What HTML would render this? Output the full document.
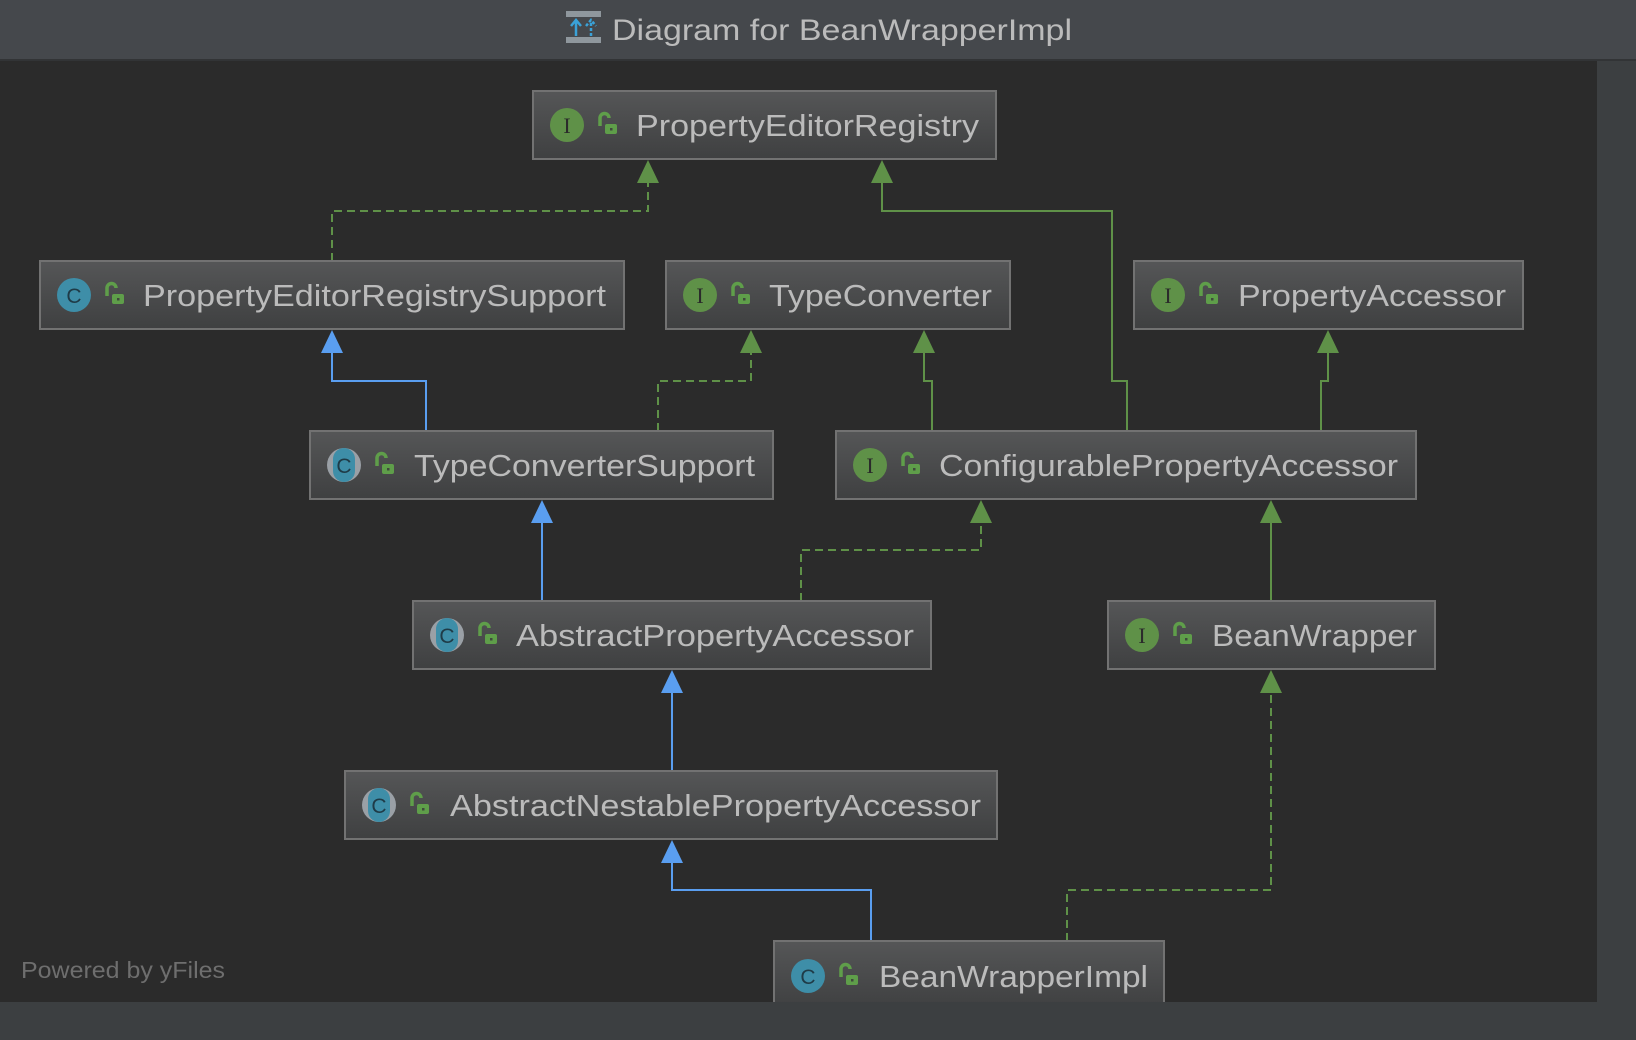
<!DOCTYPE html>
<html><head><meta charset="utf-8"><style>
html,body{margin:0;padding:0;background:#3c3f41;}
svg{display:block;}
text{font-family:"Liberation Sans",sans-serif;}
text.serif{font-family:"Liberation Serif",serif;}
</style></head><body>
<svg width="1636" height="1040" viewBox="0 0 1636 1040" xmlns="http://www.w3.org/2000/svg">
<defs>
<linearGradient id="ng" x1="0" y1="0" x2="0" y2="1">
<stop offset="0" stop-color="#555657"/><stop offset="1" stop-color="#3f4041"/>
</linearGradient>
<g id="lock"><path d="M-6,1 v-8 a4.5,4.5 0 0 1 9,0" fill="none" stroke="#5f9e4a" stroke-width="3.5"/><rect x="-1" y="-1" width="12" height="10" rx="2" fill="#5f9e4a"/><rect x="4" y="3" width="2.5" height="2.5" fill="#3f4a3c"/></g>
<g id="ii"><circle r="17" fill="#5f9148"/><text class="serif" y="8" text-anchor="middle" font-size="22" fill="#2b2b2b">I</text></g>
<g id="cc"><circle r="17" fill="#3e8ea8"/><text y="8" text-anchor="middle" font-size="21" fill="#1f3b47">C</text></g>
<g id="ac"><circle r="17" fill="#9aa0a6"/><rect x="-11" y="-17" width="22" height="34" rx="11" fill="#3e8ea8"/><text y="8" text-anchor="middle" font-size="21" fill="#1f3b47">C</text></g>
</defs>
<rect x="0" y="0" width="1636" height="1040" fill="#3c3f41"/>
<rect x="0" y="0" width="1636" height="59" fill="#45484c"/>
<rect x="0" y="59" width="1636" height="2" fill="#323436"/>
<rect x="0" y="61" width="1597" height="941" fill="#2b2b2b"/>
<rect x="566" y="11" width="35" height="6" fill="#8f979d"/>
<rect x="566" y="37" width="35" height="6" fill="#8f979d"/>
<path d="M576,36 v-14 M571,26 l5,-6 l5,6" stroke="#3aa2d8" stroke-width="2.5" fill="none"/>
<path d="M591,36 v-14 M586,26 l5,-6 l5,6" stroke="#3aa2d8" stroke-width="2.5" fill="none" stroke-dasharray="3,2"/>
<text x="612" y="40" font-size="30" fill="#bbbbbb" textLength="460" lengthAdjust="spacingAndGlyphs">Diagram for BeanWrapperImpl</text>

<g fill="none" stroke-width="2">
<path d="M332,261 V211 H648 V175" stroke="#5f9148" stroke-dasharray="8,5"/>
<path d="M1127,431 V381 H1112 V211 H882 V175" stroke="#5f9148"/>
<path d="M426,431 V381 H332 V345" stroke="#5a9ef0"/>
<path d="M658,431 V381 H751 V345" stroke="#5f9148" stroke-dasharray="8,5"/>
<path d="M932,431 V381 H924 V345" stroke="#5f9148"/>
<path d="M1321,431 V381 H1328 V345" stroke="#5f9148"/>
<path d="M542,601 V515" stroke="#5a9ef0"/>
<path d="M801,601 V550 H981 V515" stroke="#5f9148" stroke-dasharray="8,5"/>
<path d="M1271,601 V515" stroke="#5f9148"/>
<path d="M672,771 V685" stroke="#5a9ef0"/>
<path d="M871,941 V890 H672 V855" stroke="#5a9ef0"/>
<path d="M1067,941 V890 H1271 V685" stroke="#5f9148" stroke-dasharray="8,5"/>
</g>
<g>
<path d="M648,160 l-11,23 h22z" fill="#5f9148"/>
<path d="M882,160 l-11,23 h22z" fill="#5f9148"/>
<path d="M332,330 l-11,23 h22z" fill="#5a9ef0"/>
<path d="M751,330 l-11,23 h22z" fill="#5f9148"/>
<path d="M924,330 l-11,23 h22z" fill="#5f9148"/>
<path d="M1328,330 l-11,23 h22z" fill="#5f9148"/>
<path d="M542,500 l-11,23 h22z" fill="#5a9ef0"/>
<path d="M981,500 l-11,23 h22z" fill="#5f9148"/>
<path d="M1271,500 l-11,23 h22z" fill="#5f9148"/>
<path d="M672,670 l-11,23 h22z" fill="#5a9ef0"/>
<path d="M672,840 l-11,23 h22z" fill="#5a9ef0"/>
<path d="M1271,670 l-11,23 h22z" fill="#5f9148"/>
</g>

<g stroke="#727272" stroke-width="2" fill="url(#ng)">
<rect x="533" y="91" width="463" height="68"/>
<rect x="40" y="261" width="584" height="68"/>
<rect x="666" y="261" width="344" height="68"/>
<rect x="1134" y="261" width="389" height="68"/>
<rect x="310" y="431" width="463" height="68"/>
<rect x="836" y="431" width="580" height="68"/>
<rect x="413" y="601" width="518" height="68"/>
<rect x="1108" y="601" width="327" height="68"/>
<rect x="345" y="771" width="652" height="68"/>
<rect x="774" y="941" width="390" height="68"/>
</g>
<rect x="0" y="1002" width="1636" height="38" fill="#3c3f41"/>

<use href="#ii" x="567" y="125"/><use href="#lock" x="606" y="125"/>
<use href="#cc" x="74" y="295"/><use href="#lock" x="113" y="295"/>
<use href="#ii" x="700" y="295"/><use href="#lock" x="739" y="295"/>
<use href="#ii" x="1168" y="295"/><use href="#lock" x="1207" y="295"/>
<use href="#ac" x="344" y="465"/><use href="#lock" x="383" y="465"/>
<use href="#ii" x="870" y="465"/><use href="#lock" x="909" y="465"/>
<use href="#ac" x="447" y="635"/><use href="#lock" x="486" y="635"/>
<use href="#ii" x="1142" y="635"/><use href="#lock" x="1181" y="635"/>
<use href="#ac" x="379" y="805"/><use href="#lock" x="418" y="805"/>
<use href="#cc" x="808" y="976"/><use href="#lock" x="847" y="976"/>

<g font-size="31" fill="#bbbbbb">
<text x="636" y="136" textLength="343" lengthAdjust="spacingAndGlyphs">PropertyEditorRegistry</text>
<text x="143" y="306" textLength="463" lengthAdjust="spacingAndGlyphs">PropertyEditorRegistrySupport</text>
<text x="769" y="306" textLength="223" lengthAdjust="spacingAndGlyphs">TypeConverter</text>
<text x="1238" y="306" textLength="268" lengthAdjust="spacingAndGlyphs">PropertyAccessor</text>
<text x="414" y="476" textLength="341" lengthAdjust="spacingAndGlyphs">TypeConverterSupport</text>
<text x="939" y="476" textLength="459" lengthAdjust="spacingAndGlyphs">ConfigurablePropertyAccessor</text>
<text x="516" y="646" textLength="398" lengthAdjust="spacingAndGlyphs">AbstractPropertyAccessor</text>
<text x="1212" y="646" textLength="205" lengthAdjust="spacingAndGlyphs">BeanWrapper</text>
<text x="450" y="816" textLength="531" lengthAdjust="spacingAndGlyphs">AbstractNestablePropertyAccessor</text>
<text x="879" y="987" textLength="269" lengthAdjust="spacingAndGlyphs">BeanWrapperImpl</text>
</g>
<rect x="1597" y="61" width="39" height="941" fill="#3c3f41"/>
<text x="21" y="978" font-size="23" fill="#6e6e6e" textLength="204" lengthAdjust="spacingAndGlyphs">Powered by yFiles</text>
</svg>
</body></html>
